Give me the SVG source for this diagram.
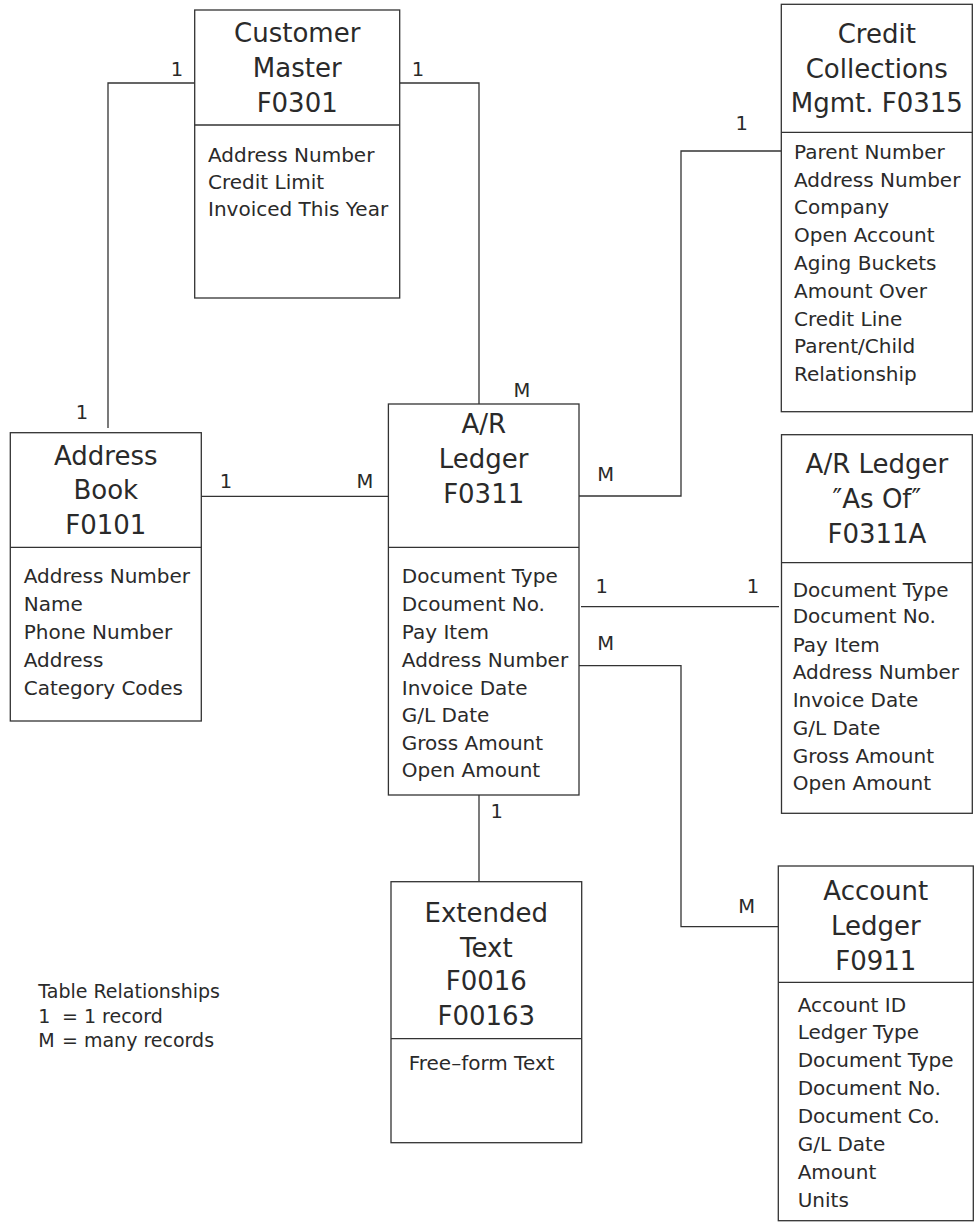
<svg xmlns="http://www.w3.org/2000/svg" width="978" height="1225" viewBox="0 0 978 1225">
<style>
.box{fill:#fff;stroke:#333;stroke-width:1.3}
.div{stroke:#333;stroke-width:1.3}
.ln{fill:none;stroke:#333;stroke-width:1.3}
text{font-family:"DejaVu Sans",Verdana,sans-serif;fill:#2a2a2a}
.t{font-size:26px;text-anchor:middle}
.b{font-size:20px}
.l{font-size:19.5px;text-anchor:middle}
.g{font-size:19px}
</style>
<rect width="978" height="1225" fill="#fff"/>
<g id="connectors">
<polyline class="ln" points="194.7,83 108,83 108,428"/>
<polyline class="ln" points="399.7,83 479,83 479,404"/>
<line class="ln" x1="201" y1="496.3" x2="388.4" y2="496.3"/>
<polyline class="ln" points="579,496 681,496 681,151 781.3,151"/>
<line class="ln" x1="581" y1="606.7" x2="779" y2="606.7"/>
<polyline class="ln" points="579,665.7 681,665.7 681,926.7 778.3,926.7"/>
<line class="ln" x1="479" y1="795" x2="479" y2="881.7"/>
<text class="l" x="177" y="76">1</text>
<text class="l" x="418" y="76">1</text>
<text class="l" x="82" y="419">1</text>
<text class="l" x="226" y="488">1</text>
<text class="l" x="365" y="488">M</text>
<text class="l" x="522" y="397">M</text>
<text class="l" x="605.7" y="481">M</text>
<text class="l" x="741.7" y="130">1</text>
<text class="l" x="601.7" y="593">1</text>
<text class="l" x="753" y="593">1</text>
<text class="l" x="605.7" y="650">M</text>
<text class="l" x="746.7" y="913">M</text>
<text class="l" x="496.7" y="818">1</text>
</g>
<g id="customer-master">
<rect class="box" x="194.7" y="10" width="205" height="288"/>
<line class="div" x1="194.7" y1="125" x2="399.7" y2="125"/>
<text class="t" x="297.2" y="42">Customer</text>
<text class="t" x="297.2" y="77">Master</text>
<text class="t" x="297.2" y="112">F0301</text>
<text class="b" x="208" y="162">Address Number</text>
<text class="b" x="208" y="189">Credit Limit</text>
<text class="b" x="208" y="216">Invoiced This Year</text>
</g>
<g id="credit-collections">
<rect class="box" x="781.3" y="4.3" width="191" height="407.4"/>
<line class="div" x1="781.3" y1="132.3" x2="972.3" y2="132.3"/>
<text class="t" x="876.8" y="42.7">Credit</text>
<text class="t" x="876.8" y="78.3">Collections</text>
<text class="t" x="876.8" y="111.7">Mgmt. F0315</text>
<text class="b" x="794" y="159.3">Parent Number</text>
<text class="b" x="794" y="187.3">Address Number</text>
<text class="b" x="794" y="214.3">Company</text>
<text class="b" x="794" y="242.3">Open Account</text>
<text class="b" x="794" y="270">Aging Buckets</text>
<text class="b" x="794" y="297.7">Amount Over</text>
<text class="b" x="794" y="326">Credit Line</text>
<text class="b" x="794" y="353.3">Parent/Child</text>
<text class="b" x="794" y="381">Relationship</text>
</g>
<g id="address-book">
<rect class="box" x="10.3" y="432.7" width="191" height="288.3"/>
<line class="div" x1="10.3" y1="547.3" x2="201.3" y2="547.3"/>
<text class="t" x="105.8" y="465">Address</text>
<text class="t" x="105.8" y="499">Book</text>
<text class="t" x="105.8" y="534">F0101</text>
<text class="b" x="23.7" y="583">Address Number</text>
<text class="b" x="23.7" y="611">Name</text>
<text class="b" x="23.7" y="639">Phone Number</text>
<text class="b" x="23.7" y="667">Address</text>
<text class="b" x="23.7" y="695">Category Codes</text>
</g>
<g id="ar-ledger">
<rect class="box" x="388.4" y="404" width="190.6" height="391"/>
<line class="div" x1="388.4" y1="547.3" x2="579" y2="547.3"/>
<text class="t" x="483.7" y="433">A/R</text>
<text class="t" x="483.7" y="468">Ledger</text>
<text class="t" x="483.7" y="503">F0311</text>
<text class="b" x="401.8" y="583">Document Type</text>
<text class="b" x="401.8" y="611">Dcoument No.</text>
<text class="b" x="401.8" y="639">Pay Item</text>
<text class="b" x="401.8" y="667">Address Number</text>
<text class="b" x="401.8" y="695">Invoice Date</text>
<text class="b" x="401.8" y="722">G/L Date</text>
<text class="b" x="401.8" y="750">Gross Amount</text>
<text class="b" x="401.8" y="777">Open Amount</text>
</g>
<g id="ar-ledger-as-of">
<rect class="box" x="781.5" y="434.7" width="190.8" height="378.6"/>
<line class="div" x1="781.5" y1="562.7" x2="972.3" y2="562.7"/>
<text class="t" x="876.9" y="473">A/R Ledger</text>
<text class="t" x="876.9" y="508">″As Of″</text>
<text class="t" x="876.9" y="543">F0311A</text>
<text class="b" x="792.7" y="596.7">Document Type</text>
<text class="b" x="792.7" y="623">Document No.</text>
<text class="b" x="792.7" y="651.7">Pay Item</text>
<text class="b" x="792.7" y="679">Address Number</text>
<text class="b" x="792.7" y="707">Invoice Date</text>
<text class="b" x="792.7" y="735">G/L Date</text>
<text class="b" x="792.7" y="762.7">Gross Amount</text>
<text class="b" x="792.7" y="790">Open Amount</text>
</g>
<g id="extended-text">
<rect class="box" x="391" y="881.7" width="190.7" height="261"/>
<line class="div" x1="391" y1="1038.7" x2="581.7" y2="1038.7"/>
<text class="t" x="486.3" y="921.7">Extended</text>
<text class="t" x="486.3" y="956.7">Text</text>
<text class="t" x="486.3" y="990">F0016</text>
<text class="t" x="486.3" y="1025">F00163</text>
<text class="b" x="408.7" y="1070">Free–form Text</text>
</g>
<g id="account-ledger">
<rect class="box" x="778.3" y="866" width="195" height="354.7"/>
<line class="div" x1="778.3" y1="982.3" x2="973.3" y2="982.3"/>
<text class="t" x="875.8" y="900">Account</text>
<text class="t" x="875.8" y="935">Ledger</text>
<text class="t" x="875.8" y="970">F0911</text>
<text class="b" x="797.7" y="1011.7">Account ID</text>
<text class="b" x="797.7" y="1039.3">Ledger Type</text>
<text class="b" x="797.7" y="1067.3">Document Type</text>
<text class="b" x="797.7" y="1095">Document No.</text>
<text class="b" x="797.7" y="1123.3">Document Co.</text>
<text class="b" x="797.7" y="1151">G/L Date</text>
<text class="b" x="797.7" y="1179">Amount</text>
<text class="b" x="797.7" y="1206.7">Units</text>
</g>
<g id="legend">
<text class="g" x="38.3" y="998.3">Table Relationships</text>
<text class="g" y="1022.7"><tspan x="38.3">1</tspan><tspan x="62">= 1 record</tspan></text>
<text class="g" y="1046.7"><tspan x="38.3">M</tspan><tspan x="62">= many records</tspan></text>
</g>
</svg>
